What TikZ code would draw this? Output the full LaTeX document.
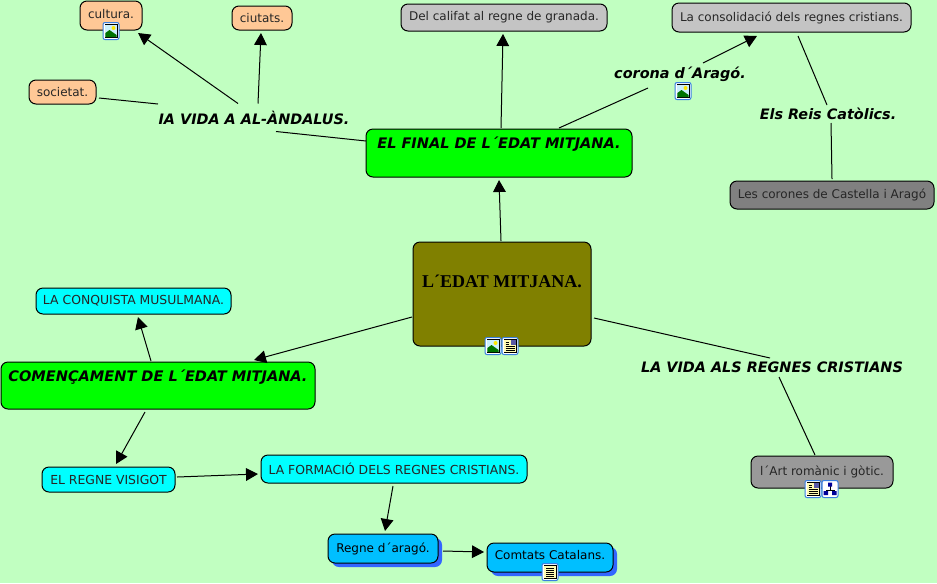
\documentclass[tikz,border=0pt]{standalone}
\usepackage{fontspec}
\setmainfont{DejaVu Sans}
\newfontfamily\serifbold{Liberation Serif}
\usetikzlibrary{arrows.meta,calc,shadows}
\definecolor{bgc}{HTML}{C1FFC1}
\definecolor{peach}{HTML}{FFC896}
\definecolor{lgray}{HTML}{C4C4C4}
\definecolor{mgray}{HTML}{808080}
\definecolor{dgray}{HTML}{999999}
\definecolor{olivec}{HTML}{808000}
\definecolor{skyc}{HTML}{00BFFF}
\definecolor{shadowc}{HTML}{3366FF}
\definecolor{iconb}{HTML}{3A7FE0}
\definecolor{cyanc}{HTML}{00FFFF}
\definecolor{greenc}{HTML}{00FF00}
\newcommand{\upt}[2]{\raisebox{#1}[0pt][0pt]{#2}}
\newcommand{\iconframe}[2]{\filldraw[draw=iconb,fill=white,line width=.75pt,rounded corners=1.5] (#1-8,#2-8.5) rectangle (#1+8,#2+8.5);\draw[black,line width=.6pt,fill=white] (#1-6,#2-6.5) rectangle (#1+6,#2+6.5);}
\newcommand{\iconimg}[2]{\iconframe{#1}{#2}
 \fill[cyan!20] (#1-5.6,#2-6) rectangle (#1+5.6,#2+6);
 \fill[yellow!90!orange] (#1+2.5,#2-3) circle (2);
 \fill[green!45!black] (#1-5.6,#2+6) -- (#1-5.6,#2+2) -- (#1-1.5,#2-1) -- (#1+5.6,#2+4) -- (#1+5.6,#2+6) -- cycle;}
\newcommand{\icondoc}[2]{\iconframe{#1}{#2}
 \fill[yellow!30] (#1-5.6,#2-6) rectangle (#1+5.6,#2+6);
 \foreach \q in {-4,-2,0,2,4}{\draw[black,line width=.5pt] (#1-4,#2+\q) -- (#1+4,#2+\q);}}
\newcommand{\icondocimg}[2]{\iconframe{#1}{#2}
 \fill[yellow!30] (#1-5.6,#2-6) rectangle (#1+5.6,#2+6);
 \fill[gray!70!blue] (#1+.5,#2-6) rectangle (#1+5.6,#2-1);
 \foreach \q in {-4,-2}{\draw[black,line width=.5pt] (#1-4.5,#2+\q) -- (#1-.8,#2+\q);}
 \foreach \q in {.5,2.5,4.5}{\draw[black,line width=.5pt] (#1-4.5,#2+\q) -- (#1+4.5,#2+\q);}}
\newcommand{\iconmap}[2]{\filldraw[draw=iconb,fill=white,line width=.75pt,rounded corners=1.5] (#1-8,#2-8.5) rectangle (#1+8,#2+8.5);
 \draw[black,line width=.5pt] (#1,#2-3) -- (#1,#2+1) (#1-4,#2+3) -- (#1-4,#2+1) -- (#1+4,#2+1) -- (#1+4,#2+3);
 \fill[blue!60!black] (#1-2,#2-6.5) rectangle (#1+2,#2-2.5) (#1-6.5,#2+2) rectangle (#1-2,#2+6) (#1+2,#2+2) rectangle (#1+6.5,#2+6);}
\tikzset{
 x=.75pt,y=-.75pt,
 concept/.style={draw=black,line width=.75pt,rounded corners=5.25pt,inner sep=0pt,font=\fontsize{9}{11}\selectfont,text=black!85},
 peachbox/.style={concept,fill=peach},
 lgraybox/.style={concept,fill=lgray},
 mgraybox/.style={concept,fill=mgray},
 dgraybox/.style={concept,fill=dgray},
 cyanbox/.style={concept,fill=cyanc,font=\fontsize{9.3}{11}\selectfont},
 greenbox/.style={concept,fill=greenc,font=\fontsize{10.9}{13}\selectfont\bfseries\itshape,text=black},
 skybox/.style={concept,fill=skyc,text=black,preaction={fill=shadowc,transform canvas={xshift=3pt,yshift=-3pt}}},
 mainbox/.style={concept,fill=olivec,font=\serifbold\fontsize{13.5}{16}\selectfont\bfseries,text=black},
 linking/.style={inner sep=0pt,font=\fontsize{10.8}{13}\selectfont\bfseries\itshape,text=black},
 plain/.style={line width=.75pt,draw=black},
 arrowed/.style={plain,-{Triangle[length=9pt,width=9.5pt]}},
}
\begin{document}
\begin{tikzpicture}
\useasboundingbox (0,0) rectangle (937,583);
\fill[bgc] (0,0) rectangle (937,583);
% concepts
\node[peachbox,minimum width=46.5pt,minimum height=21.75pt] (cultura) at (111,15.5) {\upt{-2.25pt}{cultura.}};
\node[peachbox,minimum width=45pt,minimum height=18pt] (ciutats) at (262,18) {ciutats.};
\node[peachbox,minimum width=50.25pt,minimum height=18pt] (societat) at (62.5,92) {societat.};
\node[linking,minimum width=147pt,minimum height=21pt] (vida) at (254,117.5) {IA VIDA A AL-ÀNDALUS.};
\node[greenbox,minimum width=199.5pt,minimum height=36pt] (final) at (499,153) {\upt{3.75pt}{EL FINAL DE L´EDAT MITJANA.}};
\node[lgraybox,minimum width=154.5pt,minimum height=20.25pt] (califat) at (504,17.5) {Del califat al regne de granada.};
\node[lgraybox,minimum width=179.25pt,minimum height=21.75pt] (consol) at (791.5,17.5) {La consolidació dels regnes cristians.};
\node[linking,minimum width=105pt,minimum height=19.5pt] (corona) at (680,74.5) {corona d´Aragó.};
\node[linking,minimum width=102pt,minimum height=13.5pt] (reis) at (828,114) {Els Reis Catòlics.};
\node[mgraybox,minimum width=153pt,minimum height=21pt] (corones) at (832,195) {Les corones de Castella i Aragó};
\node[mainbox,minimum width=133.5pt,minimum height=78pt] (main) at (502,294) {\upt{5.25pt}{L´EDAT MITJANA.}};
\node[linking,minimum width=201pt,minimum height=14.25pt] (regnes) at (772,367.5) {LA VIDA ALS REGNES CRISTIANS};
\node[dgraybox,minimum width=106.5pt,minimum height=24pt] (art) at (822,472) {l´Art romànic i gòtic.};
\node[greenbox,minimum width=235.5pt,minimum height=35.25pt] (comenc) at (158,385.5) {\upt{3.25pt}{COMENÇAMENT DE L´EDAT MITJANA.}};
\node[cyanbox,minimum width=146.25pt,minimum height=19.5pt] (conquista) at (133.5,301) {LA CONQUISTA MUSULMANA.};
\node[cyanbox,minimum width=99.75pt,minimum height=18.75pt] (visigot) at (108.5,479.5) {EL REGNE VISIGOT};
\node[cyanbox,minimum width=199.5pt,minimum height=21pt] (formacio) at (394,469) {LA FORMACIÓ DELS REGNES CRISTIANS.};
\node[skybox,minimum width=82.5pt,minimum height=21.75pt] (regne) at (383,548.5) {Regne d´aragó.};
\node[skybox,minimum width=94.5pt,minimum height=21.75pt] (comtats) at (550,557.5) {\upt{-1.25pt}{Comtats Catalans.}};
% connectors
\draw[arrowed] ($(vida)+(-16,-14)$) -- ($(cultura)+(27,17.5)$);
\draw[arrowed] ($(vida)+(4,-14)$) -- ($(ciutats)+(-1,15)$);
\draw[plain] ($(vida)+(-96,-13.5)$) -- ($(societat)+(36.5,6)$);
\draw[plain] ($(vida)+(22,14)$) -- ($(final)+(-133,-12)$);
\draw[arrowed] ($(main)+(-1,-53)$) -- ($(final)+(0,27)$);
\draw[arrowed] ($(final)+(2,-25)$) -- ($(califat)+(-1,16.5)$);
\draw[plain] ($(final)+(60,-25)$) -- ($(corona)+(-32,13.5)$);
\draw[arrowed] ($(corona)+(23,-11.5)$) -- ($(consol)+(-34.5,18.5)$);
\draw[plain] ($(consol)+(6.5,18.5)$) -- ($(reis)+(-1,-9)$);
\draw[plain] ($(reis)+(3,9)$) -- ($(corones)+(0,-16)$);
\draw[arrowed] ($(main)+(-90,23)$) -- ($(comenc)+(96,-25.5)$);
\draw[arrowed] ($(comenc)+(-7,-24.5)$) -- ($(conquista)+(4.5,16)$);
\draw[arrowed] ($(comenc)+(-13,26.5)$) -- ($(visigot)+(7.5,-15.5)$);
\draw[arrowed] ($(visigot)+(68.5,-2.5)$) -- ($(formacio)+(-136,5)$);
\draw[arrowed] ($(formacio)+(-1,17)$) -- ($(regne)+(2,-17.5)$);
\draw[arrowed] ($(regne)+(60,2.5)$) -- ($(comtats)+(-66,-5.5)$);
\draw[plain] ($(main)+(92,24)$) -- ($(regnes)+(-2,-9.5)$);
\draw[plain] ($(regnes)+(7,9.5)$) -- ($(art)+(-7,-17)$);
% icons
\iconimg{111}{31}
\iconimg{683}{91}
\iconimg{493}{346}
\icondocimg{510}{346}
\icondoc{550}{572}
\icondocimg{813}{489}
\iconmap{830}{489}
\end{tikzpicture}
\end{document}
